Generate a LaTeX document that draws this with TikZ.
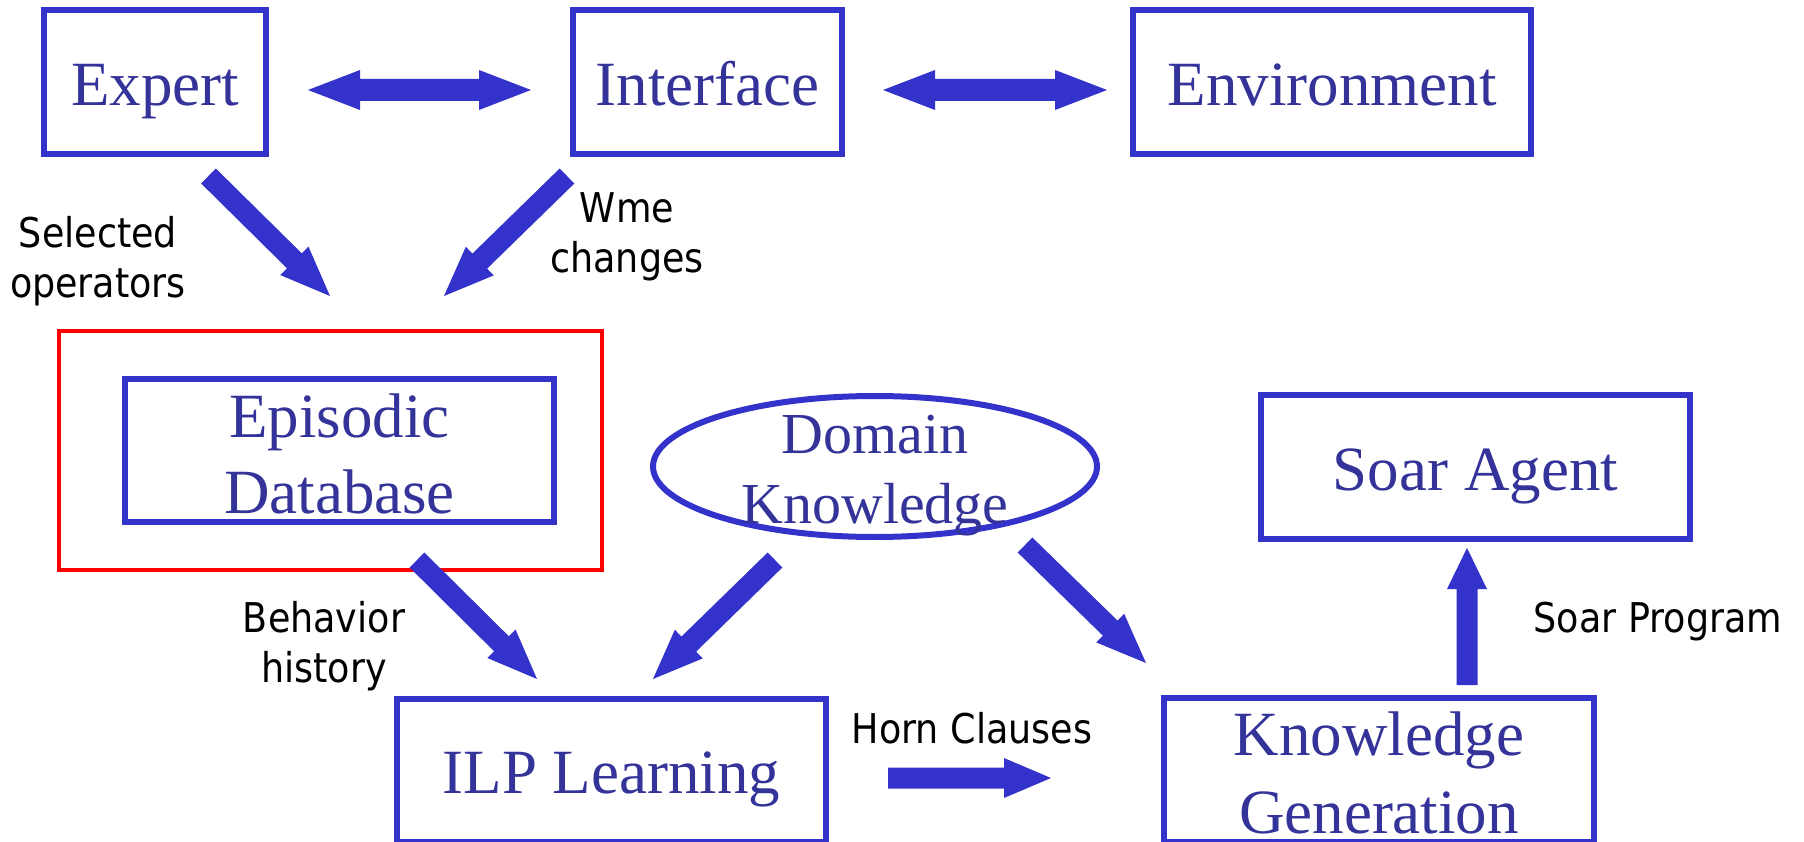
\documentclass[tikz,border=0pt]{standalone}
\usepackage{fontspec}
\usetikzlibrary{calc,shapes.geometric}

\newfontfamily\boxfont{Liberation Serif}
\newfontfamily\labelfont{DejaVu Sans}

\definecolor{edgeblue}{RGB}{51,51,204}
\definecolor{textblue}{RGB}{51,51,153}
\definecolor{framered}{RGB}{255,0,0}

% narrow sans labels
\newcommand\lbl[1]{\scalebox{0.89}[1]{#1}}
% two centred lines, baseline on the first one
\newcommand\stack[2]{\begin{tabular}[t]{@{}c@{}}#1\\#2\end{tabular}}

% thick block arrow from #2 to #3, head length #1
\newcommand\blockarrow[3][50]{%
  \coordinate (bah) at ($(#3)!#1pt!(#2)$);
  \fill[edgeblue]
    ($(#2)!10.5pt!90:(#3)$) -- ($(bah)!10.5pt!90:(#3)$) -- ($(bah)!20pt!90:(#3)$)
    -- (#3)
    -- ($(bah)!20pt!-90:(#3)$) -- ($(bah)!10.5pt!-90:(#3)$) -- ($(#2)!10.5pt!-90:(#3)$)
    -- cycle;}

% thick block arrow with heads at both ends
\newcommand\blockdarrow[3][52]{%
  \coordinate (bah) at ($(#2)!#1pt!(#3)$);
  \coordinate (bat) at ($(#3)!#1pt!(#2)$);
  \fill[edgeblue]
    (#2) -- ($(bah)!20pt!90:(#3)$) -- ($(bah)!11pt!90:(#3)$)
    -- ($(bat)!11pt!90:(#3)$) -- ($(bat)!20pt!90:(#3)$)
    -- (#3)
    -- ($(bat)!20pt!-90:(#3)$) -- ($(bat)!11pt!-90:(#3)$)
    -- ($(bah)!11pt!-90:(#3)$) -- ($(bah)!20pt!-90:(#3)$)
    -- cycle;}

\tikzset{
  box/.style={draw=edgeblue, line width=6pt, inner sep=0pt, text=textblue,
    font=\boxfont\fontsize{63}{76}\selectfont},
  lbltext/.style={font=\labelfont\fontsize{41}{50}\selectfont, anchor=base,
    inner sep=0pt, text=black},
}

\begin{document}
\begin{tikzpicture}[x=1pt, y=-1pt]
\useasboundingbox (0,0) rectangle (1804,842);
\fill[white] (0,0) rectangle (1804,842);

% top row
\node[box, minimum width=222pt, minimum height=144pt, text height=48pt, text depth=0pt]
  (expert) at (155,82) {Expert};
\node[box, minimum width=269pt, minimum height=144pt, text height=48pt, text depth=0pt]
  (interface) at (707.5,82) {Interface};
\node[box, minimum width=398pt, minimum height=144pt, text height=48pt, text depth=0pt]
  (environment) at (1332,82) {Environment};

% episodic database inside its red frame
\node[draw=framered, line width=4pt, inner sep=0pt, minimum width=543pt, minimum height=239pt]
  (frame) at (330.5,450.5) {};
\node[box, minimum width=429pt, minimum height=143pt, text height=0pt, text depth=27pt]
  (episodic) at (339.5,450.5) {\stack{Episodic}{Database}};

% domain knowledge
\node[box, ellipse, font=\boxfont\fontsize{58}{70}\selectfont,
  minimum width=444pt, minimum height=141pt, text height=0pt, text depth=26pt]
  (domain) at (875,466.5) {\stack{Domain}{Knowledge}};

% soar agent
\node[box, minimum width=429pt, minimum height=144pt, text height=46pt, text depth=0pt]
  (soar) at (1475.5,467) {Soar Agent};

% bottom row
\node[box, minimum width=429pt, minimum height=143pt, text height=45pt, text depth=0pt]
  (ilp) at (611.5,770.5) {ILP Learning};
\node[box, font=\boxfont\fontsize{63}{78}\selectfont,
  minimum width=430pt, minimum height=144pt, text height=0pt, text depth=30pt]
  (kgen) at (1379,770) {\stack{Knowledge}{Generation}};

% labels
\node[lbltext] (sel) at (98,248) {\stack{\lbl{Selected}}{\lbl{operators}}};
\node[lbltext] (wme) at (627,223) {\stack{\lbl{Wme}}{\lbl{changes}}};
\node[lbltext] (beh) at (324,632) {\stack{\lbl{Behavior}}{\lbl{history}}};
\node[lbltext] (horn) at (972,743) {\lbl{Horn Clauses}};
\node[lbltext] (prog) at (1658,632) {\lbl{Soar Program}};

% arrow end points
\coordinate (ei-s) at (308,90);   \coordinate (ei-e) at (531,90);
\coordinate (ie-s) at (883,90);   \coordinate (ie-e) at (1107,90);
\coordinate (xe-s) at (208.5,176); \coordinate (xe-e) at (330,296);
\coordinate (ie2-s) at (567,176); \coordinate (ie2-e) at (444,296);
\coordinate (el-s) at (417,560);  \coordinate (el-e) at (537,679);
\coordinate (dl-s) at (775,560);  \coordinate (dl-e) at (653,679);
\coordinate (dk-s) at (1025,545); \coordinate (dk-e) at (1146,663);
\coordinate (hc-s) at (888,778);  \coordinate (hc-e) at (1051,778);
\coordinate (sp-s) at (1467,685); \coordinate (sp-e) at (1467,548);

% arrows
\blockdarrow{ei-s}{ei-e}
\blockdarrow{ie-s}{ie-e}
\blockarrow{xe-s}{xe-e}
\blockarrow{ie2-s}{ie2-e}
\blockarrow{el-s}{el-e}
\blockarrow{dl-s}{dl-e}
\blockarrow{dk-s}{dk-e}
\blockarrow[47]{hc-s}{hc-e}
\blockarrow[41]{sp-s}{sp-e}
\end{tikzpicture}
\end{document}
